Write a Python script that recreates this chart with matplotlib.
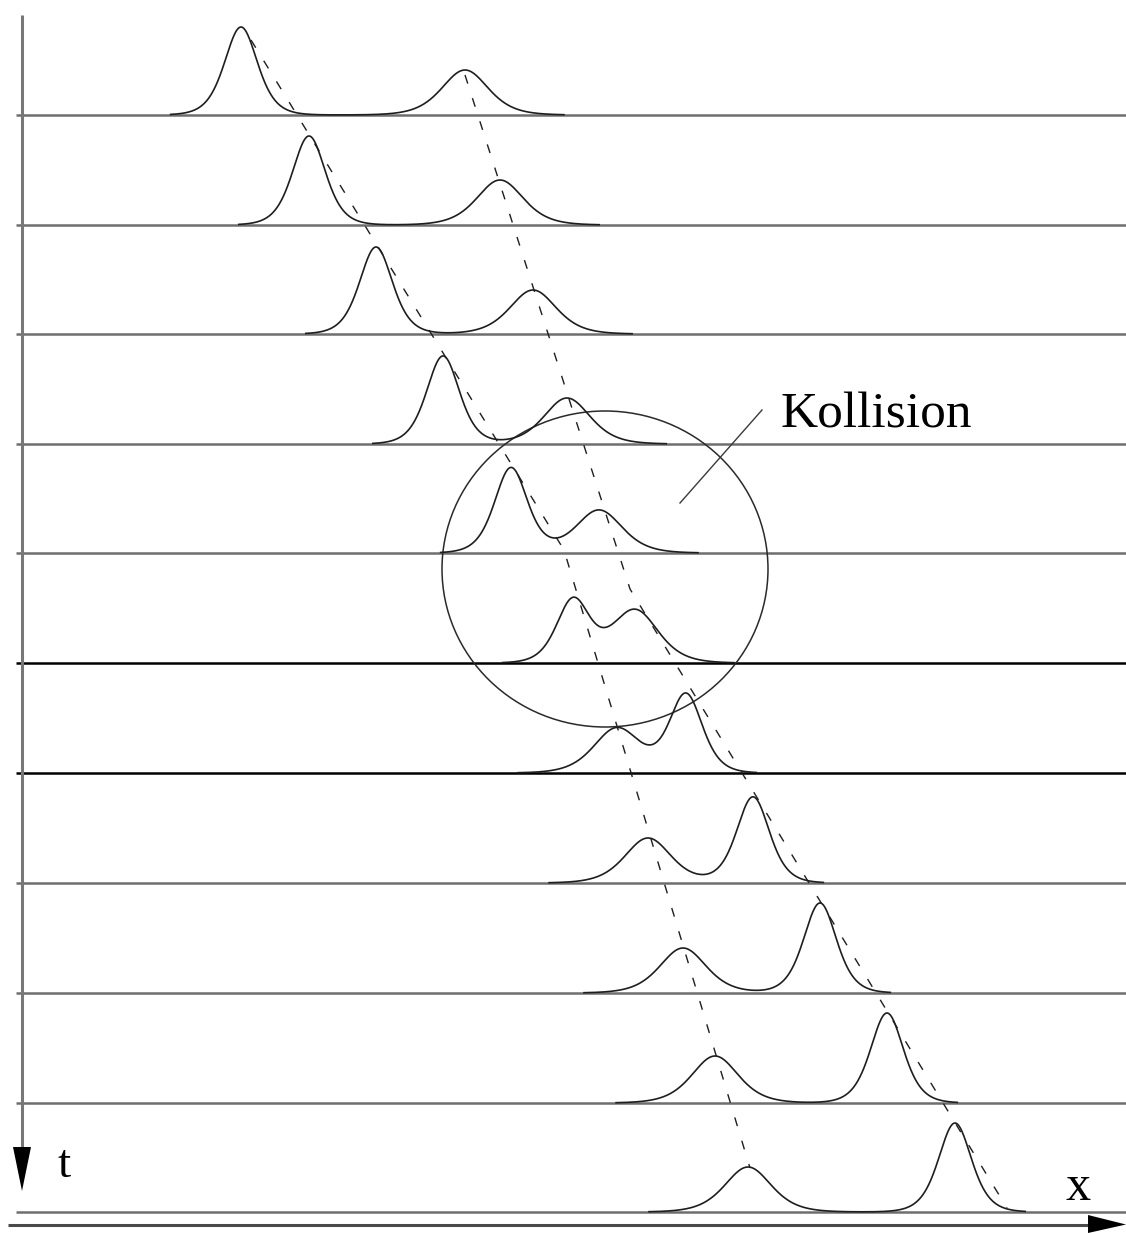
import matplotlib.pyplot as plt
from matplotlib.patches import Ellipse
import numpy as np

# baseline (time) of every snapshot, in picture units (down = later)
row_t = [115, 225, 334, 444, 553, 663, 773, 883, 993, 1103, 1212]
# fast (tall, narrow) soliton: position and amplitude per snapshot
fast_x = [241, 309, 376, 443, 511, 573, 686, 753, 820, 887, 955]
fast_h = [88, 89, 87, 88, 85, 62, 78, 86, 90, 90, 89]
# slow (low, wide) soliton
slow_x = [465, 500, 533, 567, 599, 635, 617, 648, 683, 715, 748]
slow_h = [45, 45, 44, 46, 43, 53, 45, 45, 45, 47, 45]
row_dark = [False, False, False, False, False, True, True, False, False, False, False]

# dashed trajectories (x, t), with the kink at the collision
track_a_x = [251, 564, 750]
track_a_t = [40, 550, 1168]
track_b_x = [465, 630, 1007]
track_b_t = [75, 589, 1208]

W_FAST = 22.0
W_SLOW = 31.0

def sech2(u):
    return 1.0 / np.cosh(u) ** 2

fig = plt.figure(figsize=(11.26, 12.33), dpi=100)
ax = fig.add_axes([0, 0, 1, 1])
ax.set_xlim(0, 1126)
ax.set_ylim(1233, 0)
ax.axis('off')

xs = np.linspace(0, 1126, 4000)

for i, t in enumerate(row_t):
    ax.plot([16, 1126], [t, t], color='black' if row_dark[i] else '#6e6e6e',
            lw=1.8, solid_capstyle='butt', zorder=1)
    prof = fast_h[i] * sech2((xs - fast_x[i]) / W_FAST) + slow_h[i] * sech2((xs - slow_x[i]) / W_SLOW)
    lo = min(fast_x[i] - 3.2 * W_FAST, slow_x[i] - 3.2 * W_SLOW)
    hi = max(fast_x[i] + 3.2 * W_FAST, slow_x[i] + 3.2 * W_SLOW)
    m = (xs >= lo) & (xs <= hi)
    ax.plot(xs[m], t - prof[m], color='#1e1e1e', lw=1.2, zorder=3)

for tx, tt in [(track_a_x, track_a_t), (track_b_x, track_b_t)]:
    ax.plot(tx, tt, color='#1e1e1e', lw=1.0, dashes=(6.5, 11), zorder=2)

# collision circle and pointer
ax.add_patch(Ellipse((605, 569), 326, 316, fill=False, ec='#2a2a2a', lw=1.1, zorder=2))
ax.plot([680, 762], [503, 410], color='#3a3a3a', lw=1.0, zorder=2)
ax.text(780, 428, 'Kollision', family='Liberation Serif', fontsize=37, va='baseline', ha='left')

# time axis (downwards) with arrow
ax.plot([22, 22], [15, 1160], color='#777777', lw=2.2, solid_capstyle='butt', zorder=1)
ax.fill([13, 31, 22], [1147, 1147, 1191], color='black', lw=0, zorder=4)
ax.text(58, 1177, 't', family='Liberation Serif', fontsize=34, va='baseline', ha='left')

# space axis with arrow
ax.plot([8, 1095], [1224.5, 1224.5], color='#4a4a4a', lw=2.2, solid_capstyle='butt', zorder=1)
ax.fill([1088, 1088, 1126], [1215, 1233, 1224.5], color='black', lw=0, zorder=4)
ax.text(1066, 1200, 'x', family='Liberation Serif', fontsize=36, va='baseline', ha='left')

fig.savefig('out.png', dpi=100)
